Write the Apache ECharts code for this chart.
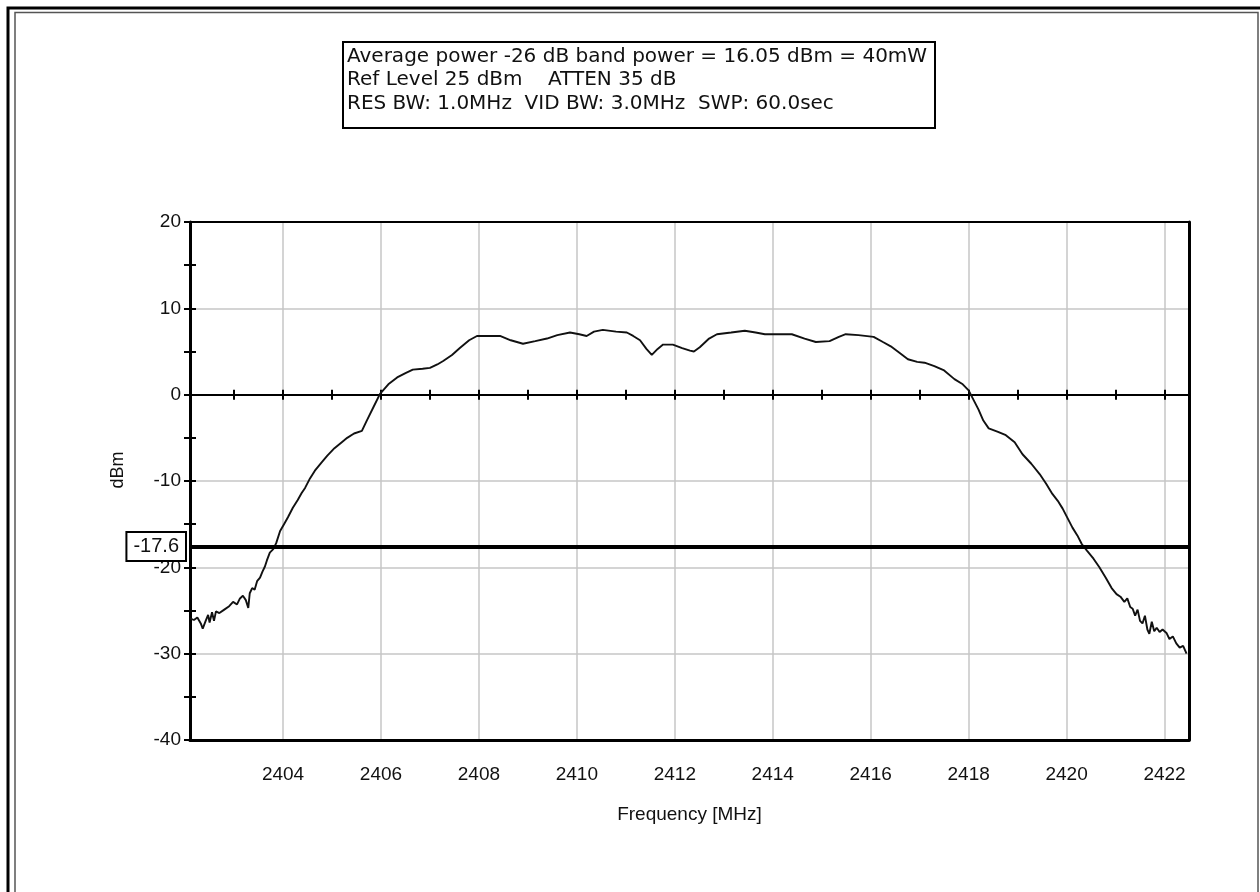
<!DOCTYPE html>
<html><head><meta charset="utf-8">
<script src="https://cdn.jsdelivr.net/npm/echarts@6/dist/echarts.min.js"></script>
<style>html,body{margin:0;padding:0;background:#fff}#c{width:1260px;height:892px}</style>
</head><body><div id="c"></div>
<script>
// ---- data ----
const freqMHz = [
  2402.10,2402.18,2402.25,2402.32,2402.36,2402.42,2402.47,2402.50,2402.55,2402.59,
  2402.63,2402.70,2402.80,2402.90,2402.98,2403.06,2403.12,2403.18,2403.24,2403.29,
  2403.32,2403.37,2403.42,2403.47,2403.53,2403.58,2403.63,2403.67,2403.73,2403.80,
  2403.86,2403.94,2404.02,2404.10,2404.20,2404.30,2404.38,2404.45,2404.55,2404.65,
  2404.78,2404.90,2405.05,2405.20,2405.31,2405.45,2405.61,2405.71,2405.85,2405.98,
  2406.15,2406.33,2406.50,2406.65,2406.85,2407.00,2407.15,2407.27,2407.45,2407.61,
  2407.80,2407.96,2408.20,2408.43,2408.65,2408.90,2409.15,2409.39,2409.60,2409.86,
  2410.05,2410.20,2410.35,2410.53,2410.80,2411.02,2411.15,2411.29,2411.42,2411.53,
  2411.65,2411.76,2411.96,2412.15,2412.31,2412.39,2412.51,2412.70,2412.86,2413.15,
  2413.43,2413.65,2413.84,2414.10,2414.39,2414.65,2414.88,2415.16,2415.35,2415.49,
  2415.75,2416.06,2416.25,2416.41,2416.60,2416.76,2416.95,2417.10,2417.30,2417.50,
  2417.71,2417.88,2418.00,2418.10,2418.20,2418.30,2418.41,2418.60,2418.76,2418.94,
  2419.10,2419.28,2419.45,2419.58,2419.71,2419.82,2419.92,2420.02,2420.12,2420.22,
  2420.31,2420.42,2420.55,2420.67,2420.80,2420.92,2421.02,2421.10,2421.18,2421.24,
  2421.30,2421.35,2421.40,2421.45,2421.50,2421.55,2421.60,2421.65,2421.69,2421.74,
  2421.79,2421.84,2421.90,2421.96,2422.04,2422.10,2422.17,2422.24,2422.31,2422.38,
  2422.45
];
const powerDbm = [
  -25.9,-26.1,-25.8,-26.5,-27.1,-26.2,-25.5,-26.4,-25.2,-26.2,
  -25.1,-25.3,-24.9,-24.5,-24.0,-24.3,-23.6,-23.3,-23.8,-24.7,
  -23.0,-22.4,-22.6,-21.6,-21.2,-20.5,-19.9,-19.2,-18.3,-17.9,
  -17.2,-15.8,-15.0,-14.2,-13.1,-12.2,-11.4,-10.8,-9.7,-8.8,
  -7.9,-7.1,-6.2,-5.5,-5.0,-4.5,-4.2,-3.0,-1.4,0.1,
  1.2,2.0,2.5,2.9,3.0,3.1,3.5,3.9,4.6,5.4,
  6.3,6.8,6.8,6.8,6.3,5.9,6.2,6.5,6.9,7.2,
  7.0,6.8,7.3,7.5,7.3,7.2,6.8,6.3,5.3,4.6,
  5.3,5.8,5.8,5.4,5.1,5.0,5.5,6.5,7.0,7.2,
  7.4,7.2,7.0,7.0,7.0,6.5,6.1,6.2,6.7,7.0,
  6.9,6.7,6.1,5.6,4.8,4.1,3.8,3.7,3.3,2.8,
  1.8,1.2,0.5,-0.6,-1.7,-3.0,-3.9,-4.3,-4.7,-5.5,
  -6.9,-8.0,-9.2,-10.3,-11.5,-12.3,-13.2,-14.3,-15.4,-16.3,
  -17.3,-18.1,-19.0,-20.0,-21.2,-22.4,-23.1,-23.4,-24.0,-23.6,
  -24.6,-24.8,-25.6,-24.9,-26.2,-26.5,-25.6,-27.2,-27.7,-26.3,
  -27.4,-27.0,-27.5,-27.2,-27.6,-28.3,-28.0,-28.8,-29.3,-29.1,
  -30.0
];
const xLabelValues = [2404,2406,2408,2410,2412,2414,2416,2418,2420,2422];
const xZeroTickValues = [2403,2404,2405,2406,2407,2408,2409,2410,2411,2412,2413,2414,2415,2416,2417,2418,2419,2420,2421,2422];
const xRange = [2402.1, 2422.5];
const yRange = [-40, 20];
const thresholdDbm = -17.6;
const headerLines = [
  'Average power -26 dB band power = 16.05 dBm = 40mW',
  'Ref Level 25 dBm    ATTEN 35 dB',
  'RES BW: 1.0MHz  VID BW: 3.0MHz  SWP: 60.0sec'
];
const xAxisName = 'Frequency [MHz]';
const yAxisName = 'dBm';

// ---- chart ----
const FONT = '"Liberation Sans", Arial, sans-serif';
const pts = freqMHz.map((f, i) => [f, powerDbm[i]]);
const chart = echarts.init(document.getElementById('c'), null, {renderer: 'canvas'});
const G = {left: 190, top: 222, width: 999, height: 518};
const plain = v => String(v);
const borderAxisX = (pos, w) => ({
  type: 'value', min: xRange[0], max: xRange[1], position: pos,
  axisLine: {show: true, onZero: false, lineStyle: {color: '#000', width: w}},
  axisTick: {show: false}, axisLabel: {show: false}, splitLine: {show: false}
});

chart.setOption({
  animation: false,
  backgroundColor: '#fff',
  grid: Object.assign({show: false}, G),
  xAxis: [
    {
      type: 'value', min: xRange[0], max: xRange[1], position: 'bottom',
      axisLine: {show: true, onZero: false, lineStyle: {color: '#000', width: 3}},
      axisTick: {show: false, customValues: xLabelValues},
      axisLabel: {customValues: xLabelValues, formatter: plain, fontSize: 19, color: '#111', margin: 25, fontFamily: FONT},
      splitLine: {show: true, lineStyle: {color: '#c6c6c6', width: 1.5}},
      name: xAxisName, nameLocation: 'middle', nameGap: 65,
      nameTextStyle: {fontSize: 19, color: '#111', fontFamily: FONT}
    },
    {
      type: 'value', min: xRange[0], max: xRange[1], position: 'bottom',
      axisLine: {show: true, onZero: true, lineStyle: {color: '#000', width: 2}},
      axisTick: {show: true, inside: false, length: 5, customValues: xZeroTickValues, lineStyle: {color: '#000', width: 2}},
      axisLabel: {show: false}, splitLine: {show: false}
    },
    {
      type: 'value', min: xRange[0], max: xRange[1], position: 'bottom',
      axisLine: {show: false, onZero: true},
      axisTick: {show: true, inside: true, length: 5, customValues: xZeroTickValues, lineStyle: {color: '#000', width: 2}},
      axisLabel: {show: false}, splitLine: {show: false}
    },
    borderAxisX('top', 2)
  ],
  yAxis: [
    {
      type: 'value', min: yRange[0], max: yRange[1], interval: 10, position: 'left',
      axisLine: {show: true, onZero: false, lineStyle: {color: '#000', width: 3}},
      axisTick: {show: true, inside: false, length: 6, lineStyle: {color: '#000', width: 2}},
      minorTick: {show: true, splitNumber: 2, length: 6, lineStyle: {color: '#000', width: 2}},
      axisLabel: {fontSize: 19, color: '#111', margin: 9, fontFamily: FONT},
      splitLine: {show: true, lineStyle: {color: '#c6c6c6', width: 1.5}}
    },
    {
      type: 'value', min: yRange[0], max: yRange[1], interval: 10, position: 'left',
      axisLine: {show: false, onZero: false},
      axisTick: {show: true, inside: true, length: 6, lineStyle: {color: '#000', width: 2}},
      minorTick: {show: true, splitNumber: 2, length: 6, lineStyle: {color: '#000', width: 2}},
      axisLabel: {show: false}, splitLine: {show: false}
    },
    {
      type: 'value', min: yRange[0], max: yRange[1], interval: 10, position: 'right',
      axisLine: {show: true, onZero: false, lineStyle: {color: '#000', width: 3}},
      axisTick: {show: false}, axisLabel: {show: false}, splitLine: {show: false}
    }
  ],
  series: [{
    type: 'line', data: pts, xAxisIndex: 0, yAxisIndex: 0,
    showSymbol: false, symbol: 'none', smooth: false,
    lineStyle: {color: '#111', width: 1.9},
    markLine: {
      silent: true, symbol: ['none', 'none'],
      lineStyle: {color: '#000', width: 4, type: 'solid'},
      label: {
        show: true, position: 'start', distance: 5,
        formatter: String(thresholdDbm),
        fontSize: 20, color: '#111', fontFamily: FONT,
        backgroundColor: '#fff', borderColor: '#000', borderWidth: 2,
        padding: [4, 6, 3, 6]
      },
      data: [{yAxis: thresholdDbm}]
    }
  }],
  graphic: [
    {type: 'rect', silent: true, z: 100, shape: {x: 8, y: 8, width: 1270, height: 900}, style: {fill: 'none', stroke: '#000', lineWidth: 3}},
    {type: 'rect', silent: true, z: 100, shape: {x: 15, y: 12.5, width: 1243, height: 900}, style: {fill: 'none', stroke: '#555', lineWidth: 1.5}},
    {type: 'rect', silent: true, z: 100, shape: {x: 343, y: 42, width: 592, height: 86}, style: {fill: '#fff', stroke: '#000', lineWidth: 2}},
    {type: 'text', silent: true, z: 101, x: 347, y: 45,
      style: {text: headerLines.join('\n'), fill: '#111', font: '20px "DejaVu Sans", sans-serif', lineHeight: 23.5}},
    {type: 'text', silent: true, z: 101, x: 118, y: 470, rotation: Math.PI / 2,
      style: {text: yAxisName, fill: '#111', font: '18px "Liberation Sans", Arial, sans-serif', align: 'center', verticalAlign: 'middle'}}
  ]
});
</script>
</body></html>
